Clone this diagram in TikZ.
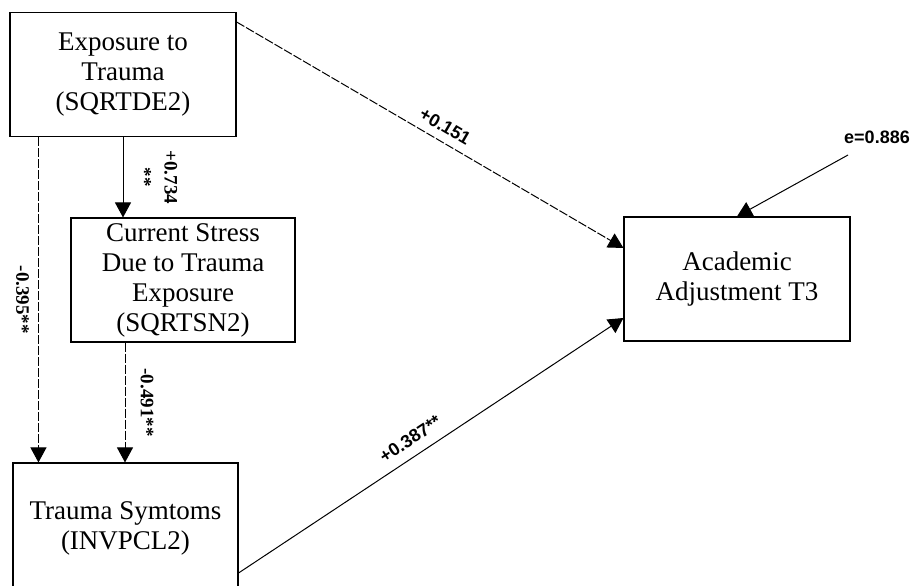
\documentclass[tikz,border=0pt]{standalone}
\usepackage{fontspec}
\setmainfont{Liberation Serif}
\newfontfamily\lblsans{Liberation Sans}
\usetikzlibrary{positioning,arrows.meta}

\begin{document}
\begin{tikzpicture}[
  x=1pt, y=-1pt,
  box/.style={draw=black, line width=1.1pt, minimum width=226pt,
              minimum height=124pt, align=center, inner sep=2pt,
              font=\fontsize{27}{30}\selectfont},
  lbl/.style={inner sep=1pt, font=\lblsans\bfseries\fontsize{18}{22}\selectfont},
  vlbl/.style={inner sep=1pt, align=center,
               font=\bfseries\fontsize{19}{26}\selectfont},
  arr/.style={-{Triangle[length=15pt, width=16pt]}, line width=1pt},
  dsh/.style={dash pattern=on 9pt off 2pt},
]
\useasboundingbox (0,0) rectangle (913,586);
% boxes
\node[box] (expo) at (123,74.5) {Exposure to\\Trauma\\(SQRTDE2)};
\node[box, minimum width=224pt] (stress) at (183,280)
  {Current Stress\\Due to Trauma\\Exposure\\(SQRTSN2)};
\node[box, minimum width=225pt, minimum height=156pt] (symp) at (125.5,541)
  {Trauma Symtoms\\(INVPCL2)\\ };
\node[box] (acad) at (737,279) {Academic\\Adjustment T3};
% error term
\node[lbl] (err) at (877,137) {e=0.886};
\coordinate (etail) at (848,155);
% paths
\draw[arr, dsh] ([yshift=-10pt]expo.north east) --
  node[lbl, pos=0.52, sloped, above=7pt] {+0.151} ([yshift=31pt]acad.west);
\draw[arr] (etail) -- (acad.north);
\draw[arr] (expo.south) --
  node[vlbl, midway, sloped, above=14pt] {+0.734\\**} (expo.south |- stress.north);
\draw[arr, dsh] ([xshift=29pt]expo.south west) --
  node[vlbl, midway, sloped, below=8pt] {-0.395**}
  ([xshift=29pt]expo.south west |- symp.north);
\draw[arr, dsh] ([xshift=-58pt]stress.south) --
  node[vlbl, midway, sloped, above=14pt] {-0.491**}
  ([xshift=-58pt]stress.south |- symp.north);
\draw[arr] ([yshift=-32pt]symp.east) --
  node[lbl, pos=0.47, sloped, above=9pt] {+0.387**} ([yshift=-39pt]acad.west);
\end{tikzpicture}
\end{document}
